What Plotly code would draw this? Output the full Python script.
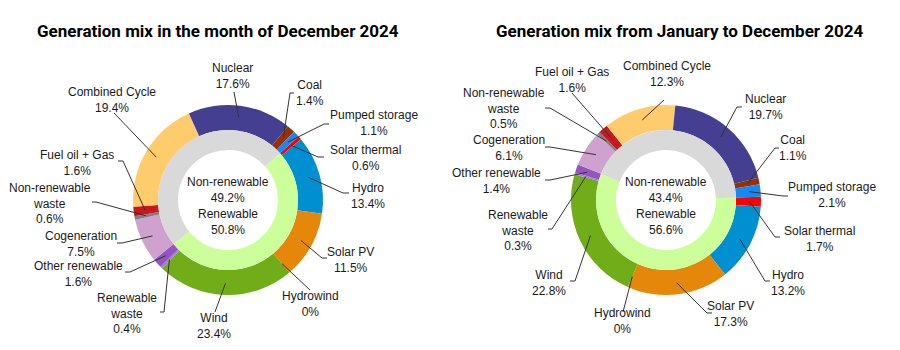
import math
import plotly.graph_objects as go

# ---------------- data ----------------
categories = ["Solar thermal", "Hydro", "Solar PV", "Hydrowind", "Wind",
              "Renewable waste", "Other renewable", "Cogeneration",
              "Non-renewable waste", "Fuel oil + Gas", "Combined Cycle",
              "Nuclear", "Coal", "Pumped storage"]
dec_values = [0.6, 13.4, 11.5, 0, 23.4, 0.4, 1.6, 7.5, 0.6, 1.6, 19.4, 17.6, 1.4, 1.1]
year_values = [1.7, 13.2, 17.3, 0, 22.8, 0.3, 1.4, 6.1, 0.5, 1.6, 12.3, 19.7, 1.1, 2.1]

groups = ["Renewable", "Non-renewable"]
dec_groups = [50.8, 49.2]
year_groups = [56.6, 43.4]

titles = ["Generation mix in the month of December 2024",
          "Generation mix from January to December 2024"]

# ---------------- styles ----------------
colors = {
    "Solar thermal": "#FF0000", "Hydro": "#0090D2", "Solar PV": "#E5870A",
    "Hydrowind": "#2F6FB0", "Wind": "#70AD19", "Renewable waste": "#A77BD6",
    "Other renewable": "#9355C2", "Cogeneration": "#CFA1CF",
    "Non-renewable waste": "#7F7F7F", "Fuel oil + Gas": "#C8171E",
    "Combined Cycle": "#FFCC6D", "Nuclear": "#453F92", "Coal": "#963008",
    "Pumped storage": "#1688F5",
}
group_colors = ["#CCFF99", "#D9D9D9"]

W, H = 900, 350
R_OUT, R_MID, R_IN = 95, 70, 50
charts = [
    dict(cx=228, cy=200, rot=48, vals=dec_values, gvals=dec_groups,
         title_xy=(218, 31)),
    dict(cx=666, cy=200, rot=88, vals=year_values, gvals=year_groups,
         title_xy=(680, 31)),
]

# label layout: name -> (label x, label y, elbow x, elbow y, tick dx)
label_layout = [
    {
        "Nuclear": (232, 76, 234, 92, 0),
        "Coal": (310, 93, 290, 93, 4),
        "Pumped storage": (374, 123, 324, 124, 5),
        "Solar thermal": (365, 158, 318, 157, 6),
        "Hydro": (368, 196, 343, 193, 6),
        "Solar PV": (350, 260, 322, 258, 5),
        "Hydrowind": (310, 304, 310, 290, 0),
        "Wind": (214, 326, 215, 312, 0),
        "Renewable waste": (127, 313, 164, 312, -4),
        "Other renewable": (78, 274, 130, 272, -5),
        "Cogeneration": (81, 244, 122, 243, -5),
        "Non-renewable waste": (50, 203, 96, 202, -4),
        "Fuel oil + Gas": (77, 163, 123, 161, -5),
        "Combined Cycle": (112, 100, 114, 113, 0),
    },
    {
        "Fuel oil + Gas": (572, 80, 572, 93, 0),
        "Combined Cycle": (667, 74, 664, 100, 0),
        "Non-renewable waste": (504, 109, 550, 108, -5),
        "Nuclear": (765, 107, 737, 107, 5),
        "Cogeneration": (509, 148, 550, 147, -5),
        "Coal": (793, 148, 775, 148, 4),
        "Other renewable": (496, 181, 550, 180, -5),
        "Pumped storage": (832, 195, 783, 196, 5),
        "Renewable waste": (518, 230, 552, 229, -4),
        "Solar thermal": (819, 239, 775, 237, 5),
        "Wind": (549, 283, 575, 281, -5),
        "Hydro": (788, 283, 765, 281, 5),
        "Solar PV": (730, 314, 707, 313, 5),
        "Hydrowind": (622, 321, 623, 312, 0),
    },
]

FONT = "Liberation Sans, Arial, sans-serif"
TITLE_FONT = "Roboto, sans-serif"
TXT = "#1a1a1a"
LINE = "#333333"


def px(x):
    return x / W


def py(y):
    return 1 - y / H


def display_name(name):
    if name == "Non-renewable waste":
        return "Non-renewable<br>waste"
    if name == "Renewable waste":
        return "Renewable<br>waste"
    return name


fig = go.Figure()
annotations = []
shapes = []

for ci, ch in enumerate(charts):
    cx, cy = ch["cx"], ch["cy"]
    # outer ring
    fig.add_trace(go.Pie(
        labels=categories, values=ch["vals"], sort=False, direction="clockwise",
        rotation=ch["rot"], hole=R_MID / R_OUT, textinfo="none",
        marker=dict(colors=[colors[c] for c in categories], line=dict(width=0)),
        domain=dict(x=[px(cx - R_OUT), px(cx + R_OUT)],
                    y=[py(cy + R_OUT), py(cy - R_OUT)]),
        hoverinfo="label+percent", showlegend=False,
    ))
    # inner ring
    fig.add_trace(go.Pie(
        labels=groups, values=ch["gvals"], sort=False, direction="clockwise",
        rotation=ch["rot"], hole=R_IN / R_MID, textinfo="none",
        marker=dict(colors=group_colors, line=dict(width=0)),
        domain=dict(x=[px(cx - R_MID), px(cx + R_MID)],
                    y=[py(cy + R_MID), py(cy - R_MID)]),
        hoverinfo="label+percent", showlegend=False,
    ))

    # centre texts
    annotations.append(dict(
        x=px(cx), y=py(cy - 10), xref="paper", yref="paper",
        text=f"{groups[1]}<br>{ch['gvals'][1]:g}%", showarrow=False,
        font=dict(family=FONT, size=12, color=TXT), align="center",
        xanchor="center", yanchor="middle"))
    annotations.append(dict(
        x=px(cx), y=py(cy + 22), xref="paper", yref="paper",
        text=f"{groups[0]}<br>{ch['gvals'][0]:g}%", showarrow=False,
        font=dict(family=FONT, size=12, color=TXT), align="center",
        xanchor="center", yanchor="middle"))

    # title
    tx, ty = ch["title_xy"]
    annotations.append(dict(
        x=px(tx), y=py(ty), xref="paper", yref="paper",
        text=f"<b>{titles[ci]}</b>", showarrow=False,
        font=dict(family=TITLE_FONT, size=17, color="#000000"),
        xanchor="center", yanchor="middle"))

    # outside labels with leader lines
    total = sum(ch["vals"])
    cum = 0.0
    for name, v in zip(categories, ch["vals"]):
        mid = ch["rot"] + 360 * (cum + v / 2) / total
        cum += v
        a = math.radians(mid)
        ra = (R_MID + R_OUT) / 2 + 1
        ax_, ay_ = cx + ra * math.sin(a), cy - ra * math.cos(a)
        lx, ly, ex, ey, tdx = label_layout[ci][name]
        annotations.append(dict(
            x=px(lx), y=py(ly), xref="paper", yref="paper",
            text=f"{display_name(name)}<br>{v:g}%", showarrow=False,
            font=dict(family=FONT, size=12, color=TXT), align="center",
            xanchor="center", yanchor="middle"))
        shapes.append(dict(type="line", xref="paper", yref="paper",
                           x0=px(ax_), y0=py(ay_), x1=px(ex), y1=py(ey),
                           line=dict(color=LINE, width=1)))
        if tdx:
            shapes.append(dict(type="line", xref="paper", yref="paper",
                               x0=px(ex), y0=py(ey), x1=px(ex + tdx), y1=py(ey),
                               line=dict(color=LINE, width=1)))

fig.update_layout(
    width=W, height=H, margin=dict(l=0, r=0, t=0, b=0),
    paper_bgcolor="white", plot_bgcolor="white",
    annotations=annotations, shapes=shapes, showlegend=False,
)

fig.write_html("out.html")
